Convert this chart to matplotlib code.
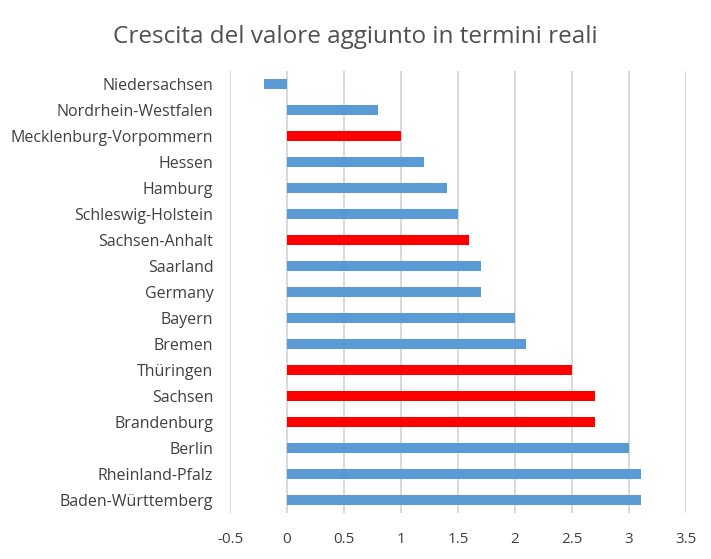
import matplotlib
matplotlib.use("Agg")
import matplotlib.pyplot as plt

# regions, top to bottom as in the chart
regions = ["Niedersachsen", "Nordrhein-Westfalen", "Mecklenburg-Vorpommern",
           "Hessen", "Hamburg", "Schleswig-Holstein", "Sachsen-Anhalt",
           "Saarland", "Germany", "Bayern", "Bremen", "Thüringen", "Sachsen",
           "Brandenburg", "Berlin", "Rheinland-Pfalz", "Baden-Württemberg"]
growth = [-0.2, 0.8, 1.0, 1.2, 1.4, 1.5, 1.6, 1.7, 1.7, 2.0, 2.1,
          2.5, 2.7, 2.7, 3.0, 3.1, 3.1]
east = ["Mecklenburg-Vorpommern", "Sachsen-Anhalt", "Thüringen",
        "Sachsen", "Brandenburg"]
xticks = [-0.5, 0, 0.5, 1, 1.5, 2, 2.5, 3, 3.5]
xtick_labels = ["-0.5", "0", "0.5", "1", "1.5", "2", "2.5", "3", "3.5"]

plt.rcParams['font.family'] = ['Open Sans', 'DejaVu Sans']

fig = plt.figure(figsize=(7.11, 5.59), dpi=100)
ax = fig.add_axes([0.3235, 0.0823, 0.6415, 0.7907])

colors = ["#FF0000" if r in east else "#5B9BD5" for r in regions]
ypos = list(range(len(regions)))
ax.barh(ypos, growth, height=0.42, color=colors, zorder=3)

ax.set_ylim(len(regions) - 0.5, -0.5)
ax.set_xlim(-0.5, 3.5)
ax.set_yticks(ypos)
ax.set_yticklabels(regions)
ax.set_xticks(xticks)
ax.set_xticklabels(xtick_labels)

ax.grid(axis="x", color="#D9D9D9", linewidth=1.4, zorder=0)
for s in ax.spines.values():
    s.set_visible(False)
ax.tick_params(axis="both", length=0, labelsize=11, labelcolor="#404040")
ax.tick_params(axis="y", pad=12, labelsize=11.5)
ax.tick_params(axis="x", pad=14)

fig.suptitle("Crescita del valore aggiunto in termini reali", y=0.955,
             fontsize=17.5, color="#505050")

fig.savefig("out.png", dpi=100)
